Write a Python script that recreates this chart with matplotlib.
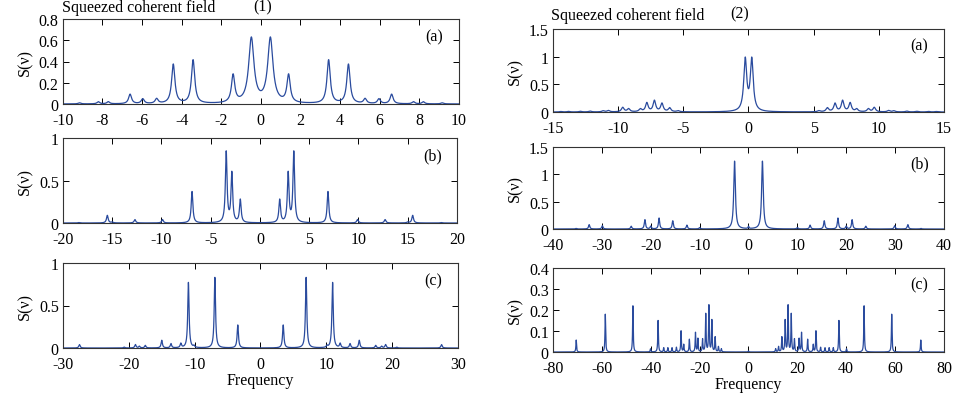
import numpy as np
import matplotlib
matplotlib.use("Agg")
import matplotlib.pyplot as plt
from matplotlib.ticker import FormatStrFormatter

plt.rcParams['font.family'] = ['Liberation Serif', 'DejaVu Serif']

# peak centres, heights and half widths
# field (1)
p1a_pos = [-9.15, -8.2, -7.7, -6.6, -5.96, -5.26, -4.42, -3.42, -1.4, -0.48,
           0.48, 1.4, 3.42, 4.42, 5.26, 5.96, 6.6, 7.7, 8.2, 9.15]
p1a_amp = [0.01, 0.02, 0.02, 0.09, 0.045, 0.045, 0.37, 0.41, 0.26, 0.61,
           0.61, 0.26, 0.41, 0.37, 0.045, 0.045, 0.09, 0.02, 0.02, 0.01]
p1a_wid = [0.08, 0.08, 0.08, 0.09, 0.09, 0.09, 0.1, 0.1, 0.1, 0.16,
           0.16, 0.1, 0.1, 0.1, 0.09, 0.09, 0.09, 0.08, 0.08, 0.08]

p1b_pos = [-18.4, -15.5, -15.0, -12.7, -9.9, -6.9, -3.43, -2.86, -2.0,
           2.0, 2.86, 3.43, 6.9, 9.9, 12.7, 15.0, 15.5, 18.4]
p1b_amp = [0.005, 0.09, 0.01, 0.04, 0.04, 0.37, 0.83, 0.58, 0.27,
           0.27, 0.58, 0.83, 0.37, 0.04, 0.04, 0.01, 0.09, 0.005]
p1b_wid = [0.1] * 18

p1c_pos = [-27.5, -20.7, -19.0, -18.4, -17.5, -15.0, -13.6, -12.1, -10.95, -10.1,
           -6.93, -3.45, 3.45, 6.93, 10.1, 10.95, 12.1, 13.6, 15.0, 17.5,
           18.4, 19.0, 20.7, 27.5]
p1c_amp = [0.04, 0.01, 0.04, 0.02, 0.03, 0.09, 0.05, 0.05, 0.77, 0.02,
           0.83, 0.27, 0.27, 0.83, 0.02, 0.77, 0.05, 0.05, 0.09, 0.03,
           0.02, 0.04, 0.01, 0.04]
p1c_wid = [0.12] * 24

# field (2)
p2a_pos = [-14.4, -13.8, -12.9, -12.15, -11.15, -10.75, -9.65, -9.2, -8.3, -7.8,
           -7.22, -6.64, -6.05, -5.4, -0.25, 0.25, 5.4, 6.05, 6.64, 7.22,
           7.8, 8.3, 9.2, 9.65, 10.75, 11.15, 12.15, 12.9, 13.8, 14.4]
p2a_amp = [0.008, 0.01, 0.012, 0.015, 0.02, 0.025, 0.08, 0.055, 0.05, 0.16,
           0.2, 0.15, 0.07, 0.02, 0.93, 0.93, 0.02, 0.07, 0.15, 0.2,
           0.16, 0.05, 0.055, 0.08, 0.025, 0.02, 0.015, 0.012, 0.01, 0.008]
p2a_wid = [0.12] * 14 + [0.135, 0.135] + [0.12] * 14

p2b_pos = [-35.3, -32.6, -29.9, -24.0, -21.2, -20.0, -18.3, -15.5, -12.6, -10.0,
           -2.85, 0.0, 2.85, 10.0, 12.6, 15.5, 18.3, 20.0, 21.2, 24.0,
           29.9, 32.6, 35.3]
p2b_amp = [0.01, 0.08, 0.06, 0.05, 0.17, 0.05, 0.2, 0.15, 0.07, 0.025,
           1.24, 0.04, 1.24, 0.025, 0.07, 0.15, 0.2, 0.05, 0.17, 0.05,
           0.06, 0.08, 0.01]
p2b_wid = [0.15] * 10 + [0.2, 0.1, 0.2] + [0.15] * 10

p2c_pos = [-70.5, -58.6, -47.3, -40.1, -37.0, -34.7, -33.0, -31.3, -29.5, -27.6,
           -26.5, -24.2, -21.7, -20.7, -18.8, -17.5, -16.2, -15.0, -13.65, -12.3,
           -11.1, 0.0, 11.1, 12.3, 13.65, 15.0, 16.2, 17.5, 18.8, 20.7,
           21.7, 24.2, 26.5, 27.6, 29.5, 31.3, 33.0, 34.7, 37.0, 40.1,
           47.3, 58.6, 70.5]
p2c_amp = [0.057, 0.18, 0.22, 0.015, 0.15, 0.02, 0.02, 0.02, 0.022, 0.1,
           0.035, 0.06, 0.092, 0.063, 0.06, 0.18, 0.22, 0.15, 0.07, 0.025,
           0.015, 0.005, 0.015, 0.025, 0.07, 0.15, 0.22, 0.18, 0.06, 0.063,
           0.092, 0.06, 0.035, 0.1, 0.022, 0.02, 0.02, 0.02, 0.15, 0.015,
           0.22, 0.18, 0.057]
p2c_wid = [0.15] * 43

W, H = 954.0, 402.0
blue = '#2a4b9e'


def spectrum(x, pos, amp, wid):
    s = np.zeros_like(x)
    for c, a, g in zip(pos, amp, wid):
        s += a * g * g / ((x - c) ** 2 + g * g)
    return s


def panel(fig, px, pos, amp, wid, xlim, xstep, ylim, ystep, tag):
    x0, x1, y0, y1 = px
    ax = fig.add_axes([x0 / W, 1 - y1 / H, (x1 - x0) / W, (y1 - y0) / H])
    x = np.linspace(xlim[0], xlim[1], 20001)
    ax.plot(x, spectrum(x, pos, amp, wid), color=blue, lw=0.9)
    ax.set_xlim(xlim)
    ax.set_ylim(ylim)
    ax.set_xticks(np.arange(xlim[0], xlim[1] + 0.001, xstep))
    ax.set_yticks(np.arange(ylim[0], ylim[1] + 0.0001, ystep))
    ax.yaxis.set_major_formatter(FormatStrFormatter('%g'))
    ax.xaxis.set_major_formatter(FormatStrFormatter('%g'))
    ax.tick_params(direction='in', top=True, right=True, length=4,
                   width=0.7, labelsize=11.5)
    ax.tick_params(axis='x', pad=6)
    ax.tick_params(axis='y', pad=3)
    for sp in ax.spines.values():
        sp.set_linewidth(0.8)
        sp.set_color('#333333')
    ax.set_ylabel('S(ν)', fontsize=11.5, labelpad=4)
    ax.text(0.937, 0.8, tag, transform=ax.transAxes, ha='center',
            va='center', fontsize=11.5)
    return ax


fig = plt.figure(figsize=(9.54, 4.02), dpi=100)

panel(fig, (62.7, 459, 20, 105), p1a_pos, p1a_amp, p1a_wid,
      (-10, 10), 2, (0, 0.8), 0.2, '(a)')
panel(fig, (63, 457, 139, 224), p1b_pos, p1b_amp, p1b_wid,
      (-20, 20), 5, (0, 1), 0.5, '(b)')
axc1 = panel(fig, (63, 458, 264, 349), p1c_pos, p1c_amp, p1c_wid,
             (-30, 30), 10, (0, 1), 0.5, '(c)')

panel(fig, (553, 944, 30, 113), p2a_pos, p2a_amp, p2a_wid,
      (-15, 15), 5, (0, 1.5), 0.5, '(a)')
panel(fig, (553, 944, 148, 230), p2b_pos, p2b_amp, p2b_wid,
      (-40, 40), 10, (0, 1.5), 0.5, '(b)')
axc2 = panel(fig, (553, 944, 269, 353), p2c_pos, p2c_amp, p2c_wid,
             (-80, 80), 20, (0, 0.4), 0.1, '(c)')

axc1.set_xlabel('Frequency', fontsize=11.5, labelpad=0)
axc2.set_xlabel('Frequency', fontsize=11.5, labelpad=0)

fig.text(62 / W, 1 - 8 / H, 'Squeezed coherent field', fontsize=11.5,
         ha='left', va='center')
fig.text(263 / W, 1 - 7 / H, '(1)', fontsize=11.5, ha='center', va='center')
fig.text(551 / W, 1 - 16 / H, 'Squeezed coherent field', fontsize=11.5,
         ha='left', va='center')
fig.text(740 / W, 1 - 14 / H, '(2)', fontsize=11.5, ha='center', va='center')

fig.savefig('out.png', dpi=100, facecolor='white')
